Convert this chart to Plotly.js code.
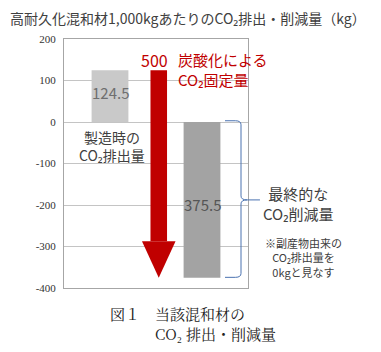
<!DOCTYPE html>
<html>
<head>
<meta charset="utf-8">
<script src="https://cdn.plot.ly/plotly-3.0.1.min.js"></script>
<style>html,body{margin:0;padding:0;background:#fff;}#chart{width:381px;height:352px;}</style>
</head>
<body>
<div id="chart"></div>
<script>
// ---- data ----
const categories = ['製造時のCO₂排出量', '炭酸化によるCO₂固定量', '最終的なCO₂削減量'];
const values = [124.5, 500, -375.5];        // emission, fixation by carbonation, final reduction
const valueLabels = ['124.5', '500', '375.5'];
const yTicks = [200, 100, 0, -100, -200, -300, -400];

// ---- layout helpers ----
const yMin = -400, yMax = 200;
const xPos = [1, 2.06, 3];
const barWidth = 0.8;
const shaftWidth = 0.36, headWidth = 0.73, headLen = 88;
const red = '#c00000';
const jp = '"Noto Sans CJK JP", "Noto Sans", sans-serif';
const serifJp = '"Noto Serif CJK JP", "Noto Sans CJK JP", serif';
const yp = v => (v - yMin) / (yMax - yMin);

const emission = values[0], fixation = values[1], reduction = values[2];
const tip = emission - fixation;
const headBase = tip + headLen;

const traces = [
  { type: 'bar', x: [xPos[0]], y: [emission], base: [0], width: [barWidth],
    marker: { color: '#c9c9c9', line: { width: 0 } }, hoverinfo: 'skip' },
  { type: 'bar', x: [xPos[2]], y: [reduction], base: [0], width: [barWidth],
    marker: { color: '#a3a3a3', line: { width: 0 } }, hoverinfo: 'skip' },
  { type: 'bar', x: [xPos[1]], y: [emission - headBase], base: [headBase], width: [shaftWidth],
    marker: { color: red, line: { width: 0 } }, hoverinfo: 'skip' },
  { type: 'scatter', mode: 'lines', fill: 'toself', fillcolor: red,
    x: [xPos[1] - headWidth / 2, xPos[1] + headWidth / 2, xPos[1], xPos[1] - headWidth / 2],
    y: [headBase, headBase, tip, headBase],
    line: { width: 0, color: red }, hoverinfo: 'skip' }
];

// curly brace from 0 to reduction
const bTop = yp(0) + 0.005, bBot = yp(reduction) + 0.002, bMid = (yp(0) + yp(reduction)) / 2;
const bx0 = 0.875, bx1 = 0.962, btip = 0.995, bline = 1.065, r = 0.016;
const bracePath =
  `M ${bx0} ${bTop} L ${bx1 - 0.03} ${bTop} Q ${bx1} ${bTop} ${bx1} ${bTop - r}` +
  ` L ${bx1} ${bMid + r} Q ${bx1} ${bMid} ${btip} ${bMid} L ${bline} ${bMid}` +
  ` M ${btip} ${bMid} Q ${bx1} ${bMid} ${bx1} ${bMid - r}` +
  ` L ${bx1} ${bBot + r} Q ${bx1} ${bBot} ${bx1 - 0.03} ${bBot} L ${bx0} ${bBot}`;

const px = x => (x - 64) / 184;
const py = y => (288 - y) / 249;

function ann(text, x, y, size, color, xanchor, family, align) {
  return { text: text, xref: 'paper', yref: 'paper', x: px(x), y: py(y),
    xanchor: xanchor || 'center', yanchor: 'middle', showarrow: false,
    align: align || 'center',
    font: { family: family || jp, size: size, color: color } };
}

const annotations = [
  { text: valueLabels[0], xref: 'x', yref: 'y', x: xPos[0], y: 71, showarrow: false,
    font: { family: jp, size: 15, color: '#6f6f6f' } },
  { text: valueLabels[2], xref: 'x', yref: 'y', x: xPos[2], y: -199, showarrow: false,
    font: { family: jp, size: 15, color: '#555555' } },
  ann(valueLabels[1], 154, 60, 16, red),
  ann('炭酸化による<br>CO₂固定量', 176, 69.5, 15, red, 'left', jp, 'left'),
  ann('製造時の<br>CO₂排出量', 112, 145.5, 14, '#404040'),
  ann('最終的な<br>CO₂削減量', 298, 203, 15, '#404040'),
  ann('※副産物由来の<br>CO₂排出量を<br>0kgと見なす', 303, 257.5, 11, '#404040'),
  ann('図１　当該混和材の<br>　　　CO₂ 排出・削減量', 108, 323.5, 15, '#222222', 'left', serifJp, 'left')
];

const layout = {
  width: 381, height: 352,
  margin: { l: 64, r: 133, t: 39, b: 64 },
  paper_bgcolor: '#ffffff', plot_bgcolor: '#ffffff',
  showlegend: false, barmode: 'overlay',
  title: { text: '高耐久化混和材1,000kgあたりのCO₂排出・削減量（kg）',
    font: { family: jp, size: 14, color: '#404040' },
    xref: 'container', yref: 'container', x: 10 / 381, xanchor: 'left', y: 1 - 19 / 352, yanchor: 'middle' },
  xaxis: { range: [0, 4], showgrid: false, zeroline: false, showticklabels: false, ticks: '',
    showline: true, mirror: true, linecolor: '#a6a6a6', linewidth: 1, fixedrange: true },
  yaxis: { range: [yMin, yMax], tickvals: yTicks, ticktext: yTicks.map(String),
    showgrid: true, gridcolor: '#c4c4c4', gridwidth: 1, zeroline: false,
    showline: true, mirror: true, linecolor: '#a6a6a6', linewidth: 1,
    ticks: 'outside', ticklen: 5, tickcolor: 'rgba(0,0,0,0)',
    tickfont: { family: '"Liberation Serif", "DejaVu Serif", serif', size: 11, color: '#333333' },
    fixedrange: true },
  shapes: [
    { type: 'path', xref: 'paper', yref: 'paper', path: bracePath,
      line: { color: '#4a72b0', width: 1 } }
  ],
  annotations: annotations
};

Plotly.newPlot('chart', traces, layout, { displayModeBar: false, staticPlot: true });
</script>
</body>
</html>
